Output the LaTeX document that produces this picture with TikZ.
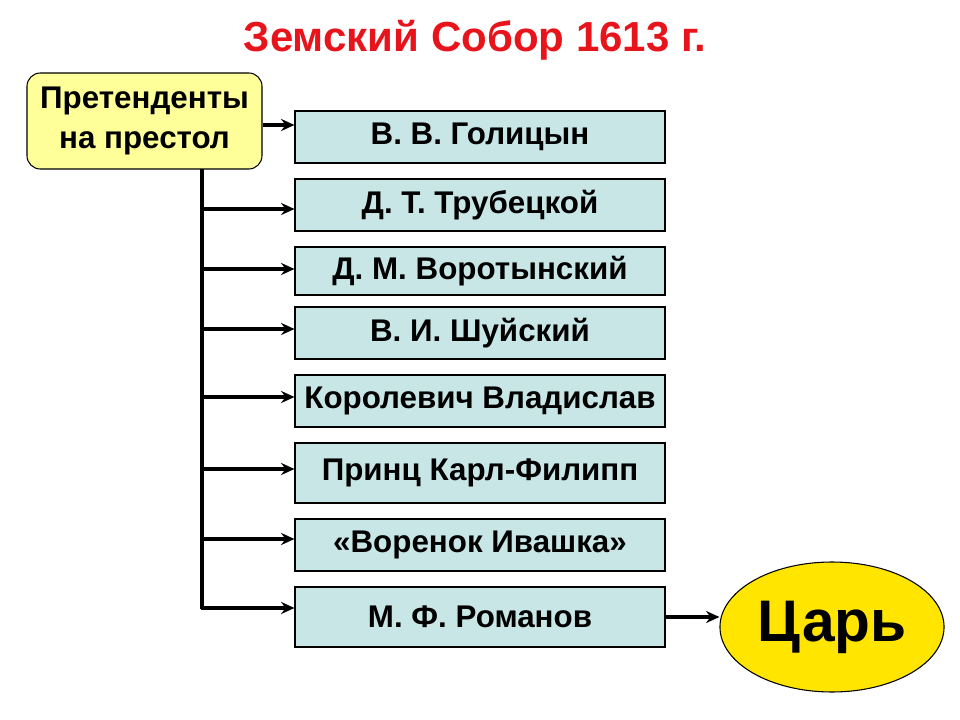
\documentclass[tikz,border=0pt]{standalone}
\usepackage{fontspec}
\setmainfont{Liberation Sans}
\usetikzlibrary{arrows.meta,shapes.geometric}
\definecolor{boxc}{HTML}{C8E6E6}
\definecolor{pretc}{HTML}{FFFF99}
\definecolor{tsar}{HTML}{FFE500}
\definecolor{ttl}{HTML}{E8141C}
\begin{document}
\begin{tikzpicture}[x=0.75pt,y=-0.75pt,
 cand/.style={draw=black,line width=0.8pt,fill=boxc,minimum width=370*0.75pt,inner sep=0pt,font=\fontsize{23.5}{26}\selectfont\bfseries},
 arr/.style={line width=3pt,-{Stealth[length=10pt,width=9pt]}}]
\useasboundingbox (0,0) rectangle (960,720);
\node[font=\fontsize{31.5}{34}\selectfont\bfseries,text=ttl] (title) at (475,40) {Земский Собор 1613 г.};
\node[draw=black,line width=0.8pt,fill=pretc,rounded corners=10pt,minimum width=235*0.75pt,minimum height=96*0.75pt,align=center,font=\fontsize{23.5}{30}\selectfont\bfseries] (p) at (144.5,121) {Претенденты\\на престол};
\node[cand,minimum height=52*0.75pt] (c1) at (480,137) {В. В. Голицын};
\node[cand,minimum height=52*0.75pt] (c2) at (480,205) {Д. Т. Трубецкой};
\node[cand,minimum height=48*0.75pt] (c3) at (480,271) {Д. М. Воротынский};
\node[cand,minimum height=52*0.75pt] (c4) at (480,333) {В. И. Шуйский};
\node[cand,minimum height=52*0.75pt] (c5) at (480,401) {Королевич Владислав};
\node[cand,minimum height=60*0.75pt] (c6) at (480,473) {Принц Карл-Филипп};
\node[cand,minimum height=52*0.75pt] (c7) at (480,545) {«Воренок Ивашка»};
\node[cand,minimum height=60*0.75pt] (c8) at (480,617) {М. Ф. Романов};
\node[ellipse,draw=black,line width=0.8pt,fill=tsar,minimum width=220*0.75pt,minimum height=130*0.75pt,font=\fontsize{44}{48}\selectfont\bfseries] (tsar) at (832,627) {Царь};
\coordinate (top) at (202,169);
\coordinate (bot) at (202,609);
\draw[line width=3pt] (top) -- (bot);
\draw[arr] (p.east |- 0,125) -- (c1.west |- 0,125);
\foreach \i/\y in {2/209,3/269,4/329,5/397,6/469,7/539} \draw[arr] (202,\y) -- (c\i.west |- 0,\y);
\draw[arr] (200.5,608) -- (c8.west |- 0,608);
\draw[arr] (c8.east |- 0,617) -- (tsar.west |- 0,617);
\end{tikzpicture}
\end{document}
